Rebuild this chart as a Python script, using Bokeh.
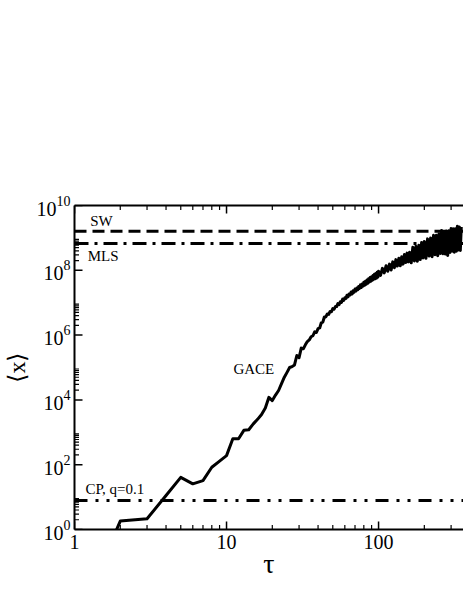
import math
from bokeh.plotting import figure
from bokeh.models import Range1d, FixedTicker, LogAxis, Title, NumeralTickFormatter, LogTickFormatter
from bokeh.embed import file_html
from bokeh.resources import INLINE

# ---------------- data ----------------
x_major = [1, 10, 100, 1000]
x_minor = [2, 3, 4, 5, 6, 7, 8, 9, 20, 30, 40, 50, 60, 70, 80, 90,
           200, 300, 400, 500, 600, 700, 800, 900]
y_major = [1, 1e2, 1e4, 1e6, 1e8, 1e10]
y_minor = [k * 10.0 ** e for e in (0, 2, 4, 6, 8) for k in (2, 3, 4, 5, 6, 7, 8, 9)]

line_tau = [1, 1000]
sw_level = [1.6e9, 1.6e9]
mls_level = [6.7e8, 6.7e8]
cp_level = [7.9, 7.9]

gace_tau = (list(range(1, 101))
            + [103, 106, 109, 112, 115, 118, 121, 124, 127, 130,
               133, 136, 139, 142, 145, 148, 151, 154, 157, 160]
            + [164, 168, 172, 176, 180, 184, 188, 192, 196, 200]
            + [205, 210, 215, 220, 225, 230, 235, 240, 245, 250,
               255, 260, 265, 270, 275, 280, 285, 290, 295, 300,
               305, 310, 315, 320, 325, 330, 335, 340, 345, 350])

# log10 of <x> for GACE
gace_log10 = [
    -3.0, 0.26, 0.33, 1.05, 1.61, 1.41, 1.51, 1.92, 2.11, 2.28,
    2.80, 2.80, 3.06, 3.08, 3.26, 3.40, 3.55, 3.75, 4.08, 3.98,
    4.15, 4.29, 4.50, 4.70, 4.85, 5.00, 5.03, 5.08, 5.37, 5.30,
    5.60, 5.58, 5.70, 5.80, 5.85, 5.95, 5.98, 6.10, 6.08, 6.20,
    6.22, 6.38, 6.40,
    6.56, 6.56, 6.65, 6.64, 6.73, 6.72, 6.82, 6.80, 6.88, 6.88,
    6.97, 6.94, 7.03, 7.01, 7.11, 7.07, 7.15, 7.13, 7.23, 7.18,
    7.27, 7.24, 7.33, 7.27, 7.37, 7.32, 7.42, 7.36, 7.45, 7.40,
    7.50, 7.44, 7.55, 7.47, 7.58, 7.51, 7.63, 7.54, 7.66, 7.57,
    7.70, 7.60, 7.74, 7.64, 7.78, 7.66, 7.80, 7.69, 7.84, 7.72,
    7.88, 7.74, 7.90, 7.76, 7.94, 7.79, 7.97,
    7.84, 8.06, 7.92, 8.14, 7.97, 8.19, 8.01, 8.26, 8.08, 8.33,
    8.13, 8.37, 8.14, 8.42, 8.19, 8.49, 8.24, 8.53, 8.26, 8.56,
    8.23, 8.71, 8.29, 8.74, 8.28, 8.77, 8.33, 8.86, 8.38, 8.89,
    8.37, 8.97, 8.44, 9.00, 8.42, 9.08, 8.48, 9.08, 8.45, 9.13,
    8.52, 9.23, 8.51, 9.16, 8.50, 9.21, 8.46, 9.22, 8.55, 9.29,
    8.59, 9.28, 8.56, 9.28, 8.59, 9.36, 8.63, 9.34, 8.61, 9.34,
]
gace_val = [10.0 ** v for v in gace_log10]

FONT = "Liberation Serif"
X0, X1 = 1, 362
Y0, Y1 = 1, 1e10

p = figure(width=463, height=599,
           x_axis_type="log", y_axis_type="log",
           x_range=Range1d(X0, X1), y_range=Range1d(Y0, Y1),
           output_backend="svg", toolbar_location=None,
           min_border_left=74, min_border_right=0,
           min_border_top=205, min_border_bottom=70)
p.outline_line_color = None
p.grid.visible = False
p.background_fill_color = "white"
p.border_fill_color = "white"

bottom = p.xaxis[0]
left = p.yaxis[0]

bottom.ticker = FixedTicker(ticks=x_major)
bottom.formatter = NumeralTickFormatter(format="0")
left.ticker = FixedTicker(ticks=y_major)
left.formatter = LogTickFormatter()
left.axis_label = "⟨x⟩"
left.axis_label_text_font = FONT
left.axis_label_text_font_size = "24px"
left.axis_label_text_font_style = "normal"
left.axis_label_text_color = "black"
left.axis_label_standoff = 4

top = LogAxis(ticker=FixedTicker(ticks=x_major))
p.add_layout(top, "above")

for ax in (bottom, left, top):
    ax.axis_line_width = 2
    ax.axis_line_color = "black"
    ax.major_tick_in = 0
    ax.major_tick_out = 0
    ax.minor_tick_in = 0
    ax.minor_tick_out = 0
    ax.major_label_text_font = FONT
    ax.major_label_text_font_size = "20px"
    ax.major_label_text_color = "black"
    ax.major_label_standoff = 5
left.major_label_standoff = 4
# the top frame edge carries ticks only, no labels
top.major_label_text_color = None
top.major_label_text_font_size = "1px"

# x-axis title, placed under the axis
p.add_layout(Title(text="τ", align="center", offset=35, standoff=-12,
                   text_font=FONT, text_font_size="28px", text_font_style="normal",
                   text_color="black"), "below")

# inward tick marks: centred on the frame edge, outer half clipped away
half = math.pi / 2
p.scatter(x_major, [Y0] * len(x_major), marker="dash", size=16, angle=half,
          line_color="black", line_width=1.5)
p.scatter(x_minor, [Y0] * len(x_minor), marker="dash", size=9, angle=half,
          line_color="black", line_width=1.2)
p.scatter(x_major, [Y1] * len(x_major), marker="dash", size=16, angle=half,
          line_color="black", line_width=1.5)
p.scatter(x_minor, [Y1] * len(x_minor), marker="dash", size=9, angle=half,
          line_color="black", line_width=1.2)
p.scatter([X0] * len(y_major), y_major, marker="dash", size=16,
          line_color="black", line_width=1.5)
p.scatter([X0] * len(y_minor), y_minor, marker="dash", size=9,
          line_color="black", line_width=1.2)

# series
p.line(line_tau, sw_level, line_color="black", line_width=3, line_dash="12 6")
p.line(line_tau, mls_level, line_color="black", line_width=3, line_dash="14 6 3 6")
p.line(line_tau, cp_level, line_color="black", line_width=3, line_dash="13 8 3 8 3 8")
p.line(gace_tau, gace_val, line_color="black", line_width=3, line_join="round")

# annotations inside the frame
ann_text = ["SW", "MLS", "GACE", "CP, q=0.1"]
ann_x = [1.27, 1.22, 11.1, 1.18]
ann_y = [3.4e9, 2.7e8, 9.3e4, 18.4]
p.text(ann_x, ann_y, text=ann_text, text_font={"value": FONT}, text_font_size="15px",
       text_align="left", text_baseline="middle", text_color="black")

open("out.html", "w").write(file_html(p, INLINE))
